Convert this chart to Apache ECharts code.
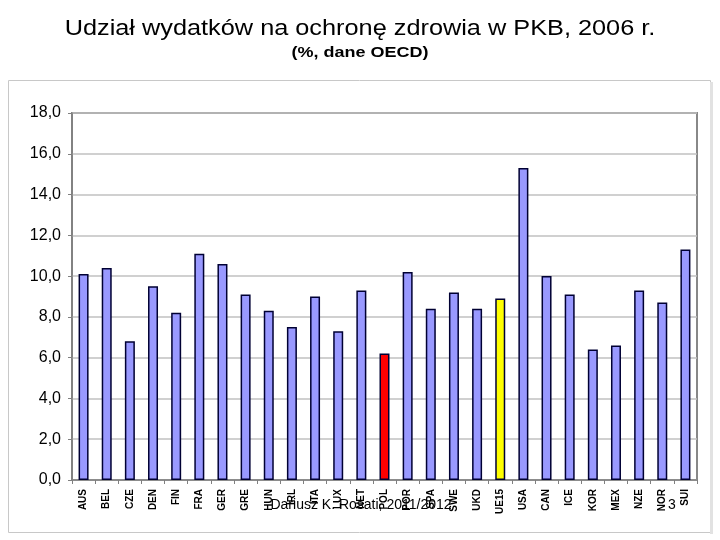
<!DOCTYPE html>
<html>
<head>
<meta charset="utf-8">
<script src="https://cdn.jsdelivr.net/npm/echarts@6/dist/echarts.min.js"></script>
<style>
  html, body { margin: 0; padding: 0; background: #fff; }
  #main { width: 720px; height: 540px; }
</style>
</head>
<body>
<div id="main"></div>
<script>
// kraje (skróty OECD)
const countries = ['AUS', 'BEL', 'CZE', 'DEN', 'FIN', 'FRA', 'GER', 'GRE', 'HUN', 'IRL', 'ITA', 'LUX', 'NET', 'POL',
  'POR', 'SPA', 'SWE', 'UKD', 'UE15', 'USA', 'CAN', 'ICE', 'KOR', 'MEX', 'NZE', 'NOR', 'SUI']
// wydatki na zdrowie, % PKB
const shares = [10.1, 10.4, 6.8, 9.5, 8.2, 11.1, 10.6, 9.1, 8.3, 7.5, 9.0, 7.3, 9.3, 6.2,
  10.2, 8.4, 9.2, 8.4, 8.9, 15.3, 10.0, 9.1, 6.4, 6.6, 9.3, 8.7, 11.3]
const yTicks = [0, 2, 4, 6, 8, 10, 12, 14, 16, 18]

const font = 'Arial, "Liberation Sans", sans-serif'

const barColor = name => {
  if (name === 'POL') return '#ff0000'
  if (name === 'UE15') return '#ffff00'
  return '#9999ff'
}

let chart = echarts.init(document.getElementById('main'))

let options = {
  animation: false,
  textStyle: { fontFamily: font },
  graphic: [
    // tytuł i podtytuł (w oryginale czcionka jest rozciągnięta w poziomie)
    {
      type: 'text',
      x: 360,
      y: 29,
      scaleX: 1.15,
      style: { text: 'Udział wydatków na ochronę zdrowia w PKB, 2006 r.', font: '22px ' + font, fill: '#000', align: 'center', verticalAlign: 'middle' }
    },
    {
      type: 'text',
      x: 360,
      y: 53,
      scaleX: 1.2,
      style: { text: '(%, dane OECD)', font: 'bold 15px ' + font, fill: '#000', align: 'center', verticalAlign: 'middle' }
    },
    // ramka wykresu
    {
      type: 'rect',
      shape: { x: 8.5, y: 80.5, width: 702, height: 452 },
      style: { fill: 'none', stroke: '#c8c8c8', lineWidth: 1 },
      z: -1
    },
    {
      type: 'rect',
      shape: { x: 710, y: 82, width: 3, height: 452 },
      style: { fill: '#e2e2e2' },
      z: -1
    },
    {
      type: 'text',
      x: 361,
      y: 505,
      style: { text: 'Dariusz K. Rosati, 2011/2012', font: '14px ' + font, fill: '#000', align: 'center', verticalAlign: 'middle' },
      z: 10
    },
    {
      type: 'text',
      x: 672,
      y: 505,
      style: { text: '3', font: '14px ' + font, fill: '#000', align: 'center', verticalAlign: 'middle' },
      z: 10
    }
  ],
  grid: {
    left: 72,
    right: 23,
    top: 113,
    bottom: 60,
    show: true,
    borderColor: '#888',
    borderWidth: 2
  },
  xAxis: {
    type: 'category',
    data: countries,
    axisLine: { lineStyle: { color: '#808080', width: 1.5 } },
    axisTick: { show: true, length: 4, lineStyle: { color: '#808080' } },
    axisLabel: {
      interval: 0,
      rotate: 90,
      margin: 9,
      fontSize: 10,
      fontWeight: 'bold',
      color: '#000'
    }
  },
  yAxis: {
    type: 'value',
    min: yTicks[0],
    max: yTicks[yTicks.length - 1],
    interval: 2,
    axisLine: { show: true, lineStyle: { color: '#808080', width: 1.5 } },
    axisTick: { show: true, length: 4, lineStyle: { color: '#808080' } },
    axisLabel: {
      fontSize: 16,
      color: '#000',
      margin: 11,
      formatter: v => v.toFixed(1).replace('.', ',')
    },
    splitLine: { lineStyle: { color: '#c0c0c0', width: 1.5 } }
  },
  series: [
    {
      type: 'bar',
      barWidth: 10,
      data: shares.map((v, i) => ({
        value: v,
        itemStyle: { color: barColor(countries[i]) }
      })),
      itemStyle: { borderColor: '#000033', borderWidth: 1.5 }
    }
  ]
}

chart.setOption(options)
</script>
</body>
</html>
